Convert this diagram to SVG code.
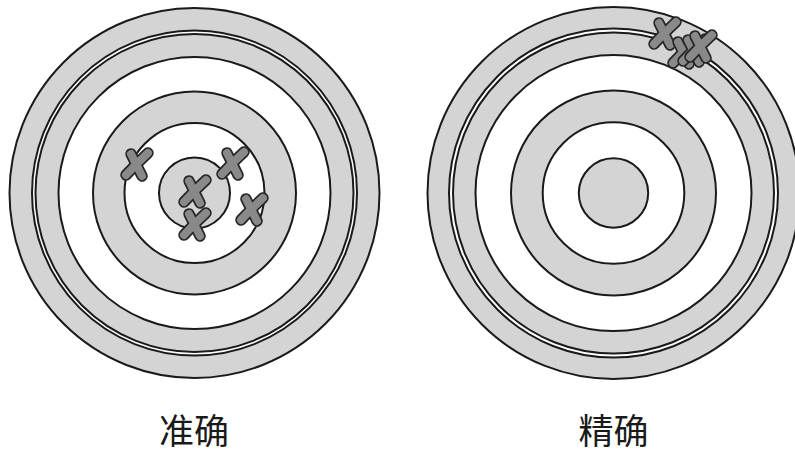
<svg xmlns="http://www.w3.org/2000/svg" xmlns:xlink="http://www.w3.org/1999/xlink" width="795" height="457" viewBox="0 0 795 457">
<style>
.g{fill:#d4d4d4;stroke:#1a1a1a;stroke-width:2}
.w{fill:#ffffff;stroke:#1a1a1a;stroke-width:2}
.xo{fill:none;stroke:#262626;stroke-width:11.5;stroke-linecap:round}
.xi{fill:none;stroke:#898989;stroke-width:8;stroke-linecap:round}
.lbl{font-family:"Noto Sans CJK SC","Noto Sans",sans-serif;font-size:35px;fill:#1a1a1a;text-anchor:middle}
</style>
<defs>
<g id="xm">
<path class="xo" d="M-6,-11 L5,11 M11,-12 Q0,-2 -11,10"/>
<path class="xi" d="M-6,-11 L5,11 M11,-12 Q0,-2 -11,10"/>
</g>
</defs>
<rect width="795" height="457" fill="#ffffff"/>
<g id="target-left">
<circle class="g" cx="194.5" cy="193" r="185"/>
<circle class="w" cx="194.5" cy="193" r="162.5"/>
<circle class="g" cx="194.5" cy="193" r="159"/>
<circle class="w" cx="194.5" cy="193" r="136"/>
<circle class="g" cx="194.5" cy="193" r="101.5"/>
<circle class="w" cx="194.5" cy="193" r="70"/>
<circle class="g" cx="194.5" cy="193" r="35.5"/>
</g>
<g id="marks-left">
<use xlink:href="#xm" transform="translate(137,165)"/>
<use xlink:href="#xm" transform="translate(195,192)"/>
<use xlink:href="#xm" transform="translate(195,225)"/>
<use xlink:href="#xm" transform="translate(233,164)"/>
<use xlink:href="#xm" transform="translate(252,210)"/>
</g>
<g id="target-right">
<circle class="g" cx="613.5" cy="193" r="186"/>
<circle class="w" cx="613.5" cy="193" r="164.5"/>
<circle class="g" cx="613.5" cy="193" r="160.5"/>
<circle class="w" cx="613.5" cy="193" r="138"/>
<circle class="g" cx="613.5" cy="193" r="102.5"/>
<circle class="w" cx="613.5" cy="193" r="70.8"/>
<circle class="g" cx="613.5" cy="193" r="34.7"/>
</g>
<g id="marks-right">
<use xlink:href="#xm" transform="translate(665,34)"/>
<use xlink:href="#xm" transform="translate(684,53)"/>
<use xlink:href="#xm" transform="translate(694,51)"/>
<use xlink:href="#xm" transform="translate(701,47)"/>
</g>
<text class="lbl" x="194" y="444">准确</text>
<text class="lbl" x="613.5" y="444">精确</text>
</svg>
